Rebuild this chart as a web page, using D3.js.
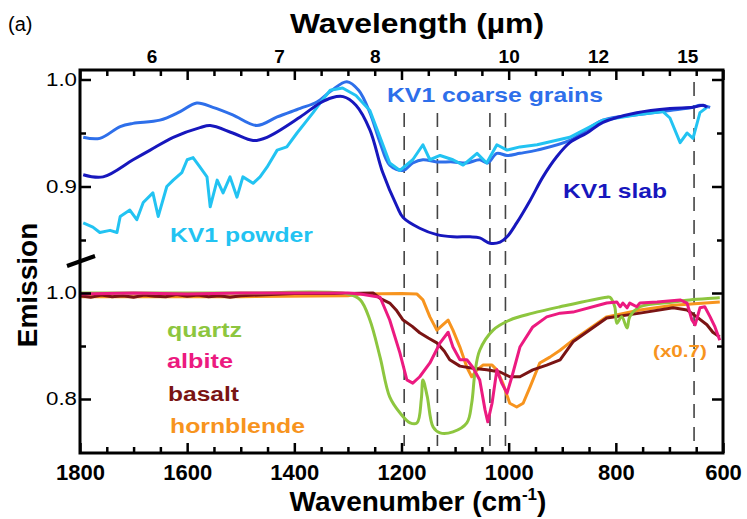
<!DOCTYPE html>
<html>
<head>
<meta charset="utf-8">
<script src="https://cdn.jsdelivr.net/npm/d3@7"></script>
<style>
body { margin: 0; background: #fff; }
text { font-family: "Liberation Sans", Arial, sans-serif; }
</style>
</head>
<body>
<svg width="747" height="519"></svg>
<script>
// spectra: wavenumber (cm-1) / emission
var coarseWn = [1794,1763,1725,1701,1651,1613,1582,1552,1515,1470,1432,1389,1358,1330,1302,1280,1259,1240,1222,1197,1179,1160,1134,1104,1078,1054,1039,1022,1003,979,947,886,824,761,699,656,643,624];
var coarseE  = [0.946,0.945,0.956,0.959,0.962,0.970,0.978,0.974,0.967,0.957,0.965,0.973,0.979,0.990,0.998,0.990,0.969,0.941,0.920,0.915,0.922,0.925,0.923,0.923,0.922,0.925,0.922,0.931,0.929,0.931,0.934,0.943,0.962,0.967,0.971,0.974,0.976,0.974];

var slabWn = [1794,1757,1701,1669,1626,1576,1557,1515,1477,1451,1389,1352,1330,1309,1285,1259,1235,1208,1197,1166,1134,1104,1072,1054,1035,1016,1003,985,960,936,910,886,854,824,761,699,656,637,630];
var slabE  = [0.911,0.909,0.925,0.934,0.946,0.955,0.957,0.950,0.943,0.946,0.965,0.978,0.983,0.984,0.976,0.953,0.913,0.881,0.871,0.861,0.855,0.853,0.853,0.852,0.847,0.848,0.853,0.866,0.887,0.909,0.928,0.941,0.950,0.960,0.969,0.973,0.974,0.976,0.974];

var powderWn = [1794,1776,1763,1744,1731,1725,1707,1694,1682,1664,1654,1638,1626,1610,1600,1589,1576,1563,1557,1544,1533,1520,1507,1496,1477,1464,1451,1432,1414,1395,1376,1365,1352,1333,1310,1285,1259,1240,1222,1203,1179,1160,1147,1128,1104,1085,1059,1041,1022,1003,979,947,886,824,761,712,699,680,667,656,643,630];
var powderE  = [0.866,0.862,0.857,0.859,0.857,0.872,0.878,0.869,0.885,0.894,0.872,0.900,0.906,0.913,0.925,0.927,0.918,0.909,0.881,0.906,0.894,0.909,0.890,0.909,0.903,0.909,0.918,0.934,0.937,0.950,0.962,0.969,0.978,0.990,0.992,0.985,0.971,0.946,0.922,0.915,0.925,0.939,0.925,0.929,0.925,0.920,0.931,0.922,0.939,0.934,0.937,0.939,0.946,0.962,0.967,0.970,0.964,0.941,0.950,0.945,0.969,0.974];

var quartzWn = [1800,1500,1300,1277,1259,1240,1222,1203,1184,1171,1163,1160,1152,1141,1128,1104,1078,1069,1063,1054,1029,998,955,904,817,811,802,798,789,779,774,755,693,662,606];
var quartzE  = [1.0,1.0,0.998,0.987,0.949,0.879,0.804,0.774,0.755,0.755,0.800,0.836,0.805,0.747,0.736,0.738,0.755,0.792,0.849,0.892,0.930,0.949,0.962,0.974,0.992,0.992,0.974,0.943,0.955,0.934,0.955,0.974,0.983,0.987,0.991];

var albiteWn = [1800,1700,1600,1500,1400,1300,1277,1240,1222,1203,1190,1179,1166,1147,1128,1113,1104,1091,1078,1067,1054,1044,1039,1031,1022,1013,1003,994,979,955,929,904,880,817,798,792,787,779,774,761,755,723,680,667,658,652,643,634,624,615,606];
var albiteE  = [0.998,1.0,0.998,1.0,1.0,1.0,0.998,0.992,0.949,0.887,0.836,0.830,0.842,0.868,0.906,0.926,0.898,0.874,0.874,0.860,0.836,0.779,0.757,0.792,0.855,0.830,0.811,0.842,0.898,0.936,0.955,0.962,0.964,0.981,0.983,0.974,0.981,0.972,0.981,0.974,0.981,0.983,0.987,0.981,0.949,0.940,0.972,0.974,0.955,0.936,0.911];

var basaltWn = [1800,1780,1760,1740,1720,1700,1680,1660,1640,1620,1600,1580,1560,1540,1520,1500,1400,1300,1253,1240,1222,1210,1197,1180,1166,1150,1134,1120,1110,1091,1067,1041,1016,998,979,955,929,904,880,817,755,693,667,649,630,619,606];
var basaltE  = [0.995,0.992,0.996,0.993,0.995,0.992,0.996,0.994,0.993,0.997,0.994,0.996,0.993,0.995,0.992,0.995,0.999,0.999,1.0,0.990,0.981,0.968,0.949,0.937,0.925,0.915,0.906,0.890,0.874,0.862,0.858,0.855,0.851,0.842,0.842,0.855,0.864,0.874,0.908,0.953,0.962,0.972,0.968,0.955,0.940,0.926,0.917];

var hornWn = [1800,1500,1300,1277,1200,1171,1160,1147,1134,1123,1113,1104,1091,1078,1069,1059,1048,1031,1022,1011,998,985,973,960,942,923,904,880,817,755,693,606];
var hornE  = [0.993,0.993,0.995,0.998,0.999,0.998,0.987,0.955,0.930,0.940,0.949,0.930,0.898,0.860,0.842,0.855,0.864,0.864,0.855,0.830,0.792,0.785,0.792,0.823,0.868,0.879,0.892,0.911,0.955,0.968,0.977,0.983];

var markerWn = [1195, 1133, 1035, 1006, 654];
var wavelengthTicks = [6, 7, 8, 10, 12, 15];

var svg = d3.select("svg");
var plotL = 80, plotR = 723, plotT = 70, plotB = 453;

var x = d3.scaleLinear().domain([1800, 600]).range([plotL, plotR]);
var yTop = d3.scaleLinear().domain([0.85, 1.0]).range([240, 79.5]);
var yBot = d3.scaleLinear().domain([0.8, 1.0]).range([399, 293]);

function pairs(wn, e) {
  return wn.map(function(w, i) { return [w, e[i]]; });
}

// dashed marker lines
svg.append("g").selectAll("line")
  .data(markerWn)
  .enter().append("line")
  .attr("x1", function(d) { return x(d); })
  .attr("x2", function(d) { return x(d); })
  .attr("y1", function(d) { return d < 700 ? 82 : 113; })
  .attr("y2", 446)
  .attr("stroke", "#444")
  .attr("stroke-width", 1.6)
  .attr("stroke-dasharray", "14,9");

var upper = [
  {wn: coarseWn, e: coarseE, color: "#2e6fea", curve: d3.curveCatmullRom},
  {wn: powderWn, e: powderE, color: "#22c3f2", curve: d3.curveLinear},
  {wn: slabWn, e: slabE, color: "#1717bd", curve: d3.curveCatmullRom}
];
var lower = [
  {wn: hornWn, e: hornE, color: "#f7941e", curve: d3.curveLinear},
  {wn: basaltWn, e: basaltE, color: "#7a1414", curve: d3.curveLinear},
  {wn: quartzWn, e: quartzE, color: "#8dc63f", curve: d3.curveCatmullRom},
  {wn: albiteWn, e: albiteE, color: "#ec1a80", curve: d3.curveLinear}
];

upper.forEach(function(s) {
  var line = d3.line().x(function(d) { return x(d[0]); }).y(function(d) { return yTop(d[1]); }).curve(s.curve);
  svg.append("path").datum(pairs(s.wn, s.e))
    .attr("d", line).attr("fill", "none")
    .attr("stroke", s.color).attr("stroke-width", 3).attr("stroke-linejoin", "round");
});
lower.forEach(function(s) {
  var line = d3.line().x(function(d) { return x(d[0]); }).y(function(d) { return yBot(d[1]); }).curve(s.curve);
  svg.append("path").datum(pairs(s.wn, s.e))
    .attr("d", line).attr("fill", "none")
    .attr("stroke", s.color).attr("stroke-width", 3).attr("stroke-linejoin", "round");
});

// axes
function styleAxis(g) {
  g.select(".domain").remove();
  g.selectAll("line").attr("stroke", "#000").attr("stroke-width", 2.5);
}
var minorX = d3.range(600, 1801, 50).filter(function(d) { return d % 200 != 0; });
var majorX = d3.range(600, 1801, 200);

svg.append("g").attr("transform", "translate(0," + plotB + ")")
  .call(d3.axisBottom(x).tickValues(minorX).tickSize(-6).tickFormat(""))
  .call(styleAxis);
svg.append("g").attr("transform", "translate(0," + plotB + ")")
  .call(d3.axisBottom(x).tickValues(majorX).tickSize(-10).tickPadding(11).tickFormat(d3.format("d")))
  .call(styleAxis)
  .selectAll("text").attr("font-size", 22).attr("font-weight", "bold").attr("fill", "#000");

svg.append("g").attr("transform", "translate(0," + plotT + ")")
  .call(d3.axisTop(x).tickValues(minorX).tickSize(-6).tickFormat(""))
  .call(styleAxis);
svg.append("g").attr("transform", "translate(0," + plotT + ")")
  .call(d3.axisTop(x).tickValues(majorX).tickSize(-10).tickFormat(""))
  .call(styleAxis);
svg.append("g").attr("transform", "translate(0," + plotT + ")")
  .call(d3.axisTop(x).tickValues(wavelengthTicks.map(function(l) { return 10000 / l; }))
    .tickSize(0).tickPadding(7).tickFormat(function(d) { return Math.round(10000 / d); }))
  .call(styleAxis)
  .selectAll("text").attr("font-size", 19).attr("font-weight", "bold").attr("fill", "#000");

function yAxes(scale, minor, major, labels) {
  [[plotL, d3.axisLeft], [plotR, d3.axisRight]].forEach(function(side) {
    svg.append("g").attr("transform", "translate(" + side[0] + ",0)")
      .call(side[1](scale).tickValues(minor).tickSize(-6).tickFormat(""))
      .call(styleAxis);
    svg.append("g").attr("transform", "translate(" + side[0] + ",0)")
      .call(side[1](scale).tickValues(major).tickSize(-11).tickFormat(""))
      .call(styleAxis);
  });
  svg.append("g").attr("transform", "translate(" + plotL + ",0)")
    .call(d3.axisLeft(scale).tickValues(labels).tickSize(0).tickPadding(3).tickFormat(d3.format(".1f")))
    .call(styleAxis)
    .selectAll("text").attr("font-size", 18).attr("fill", "#000")
    .attr("textLength", 31).attr("lengthAdjust", "spacingAndGlyphs");
}
yAxes(yTop, [0.85, 0.95], [0.9, 1.0], [0.9, 1.0]);
yAxes(yBot, [0.9], [0.8, 1.0], [0.8, 1.0]);

// frame
svg.append("rect")
  .attr("x", plotL).attr("y", plotT)
  .attr("width", plotR - plotL).attr("height", plotB - plotT)
  .attr("fill", "none").attr("stroke", "#000").attr("stroke-width", 3);

// axis break mark
svg.append("line")
  .attr("x1", 67).attr("y1", 266).attr("x2", 95).attr("y2", 256)
  .attr("stroke", "#000").attr("stroke-width", 4);

// series labels
var labels = [
  {t: "KV1 coarse grains", x: 387, y: 102, w: 216, c: "#2e6fea", s: 21},
  {t: "KV1 slab", x: 563, y: 198, w: 104, c: "#1717bd", s: 21},
  {t: "KV1 powder", x: 170, y: 242, w: 143, c: "#22c3f2", s: 21},
  {t: "quartz", x: 167, y: 337, w: 75, c: "#8dc63f", s: 20},
  {t: "albite", x: 167, y: 368, w: 66, c: "#ec1a80", s: 20},
  {t: "basalt", x: 168, y: 401, w: 71, c: "#7a1414", s: 20},
  {t: "hornblende", x: 170, y: 433, w: 135, c: "#f7941e", s: 20},
  {t: "(x0.7)", x: 653, y: 357, w: 54, c: "#f7941e", s: 17}
];
svg.append("g").selectAll("text")
  .data(labels)
  .enter().append("text")
  .attr("x", function(d) { return d.x; })
  .attr("y", function(d) { return d.y; })
  .attr("fill", function(d) { return d.c; })
  .attr("font-size", function(d) { return d.s; })
  .attr("font-weight", "bold")
  .attr("textLength", function(d) { return d.w; })
  .attr("lengthAdjust", "spacingAndGlyphs")
  .text(function(d) { return d.t; });

// titles
svg.append("text").attr("x", 8).attr("y", 31).attr("font-size", 20).text("(a)");
svg.append("text").attr("x", 417).attr("y", 33).attr("text-anchor", "middle")
  .attr("font-size", 28).attr("font-weight", "bold")
  .attr("textLength", 254).attr("lengthAdjust", "spacingAndGlyphs").text("Wavelength (µm)");
var xt = svg.append("text").attr("x", 418).attr("y", 511).attr("text-anchor", "middle")
  .attr("font-size", 28).attr("font-weight", "bold");
xt.append("tspan").text("Wavenumber (cm");
xt.append("tspan").attr("font-size", 17).attr("dy", -11).text("-1");
xt.append("tspan").attr("dy", 11).text(")");
svg.append("text").attr("transform", "translate(37,285) rotate(-90)")
  .attr("text-anchor", "middle").attr("font-size", 28).attr("font-weight", "bold").text("Emission");
</script>
</body>
</html>
